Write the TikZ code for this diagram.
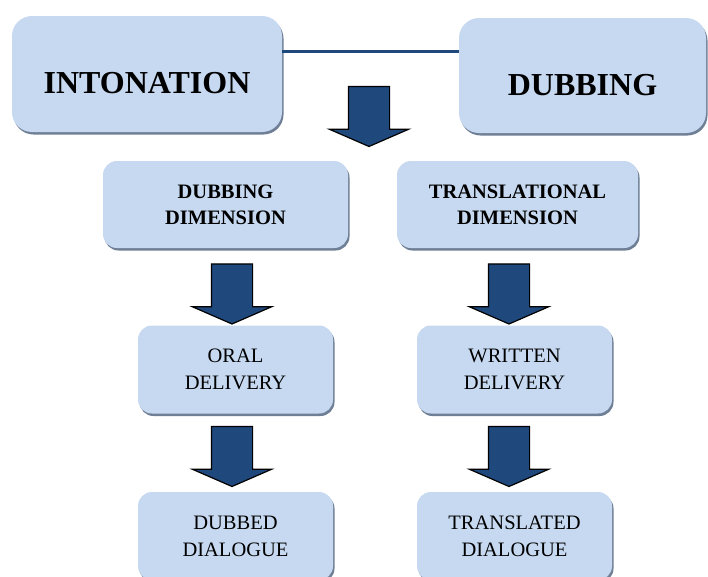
\documentclass[tikz,border=0pt]{standalone}
\usepackage{fontspec}
\setmainfont{Liberation Serif}
\usetikzlibrary{shapes,shadows}
\definecolor{boxblue}{HTML}{C6D9F1}
\definecolor{arrowblue}{HTML}{1F497D}
\definecolor{shadowblue}{HTML}{6F7F96}

\begin{document}
\begin{tikzpicture}[x=1pt,y=-1pt]
    \tikzstyle{box}=[rectangle, rounded corners=14pt, fill=boxblue, align=center, inner sep=0pt,
        drop shadow={shadow xshift=1.5pt, shadow yshift=-2.5pt, fill=shadowblue, opacity=1}]
    \tikzstyle{bigbox}=[box, rounded corners=20pt, font=\fontsize{32}{38}\selectfont\bfseries, text height=40pt, text depth=1pt]
    \tikzstyle{midbox}=[box, minimum height=87pt, font=\fontsize{20.5}{26}\selectfont\bfseries]
    \tikzstyle{smallbox}=[box, minimum width=195pt, minimum height=88pt, font=\fontsize{20.5}{27}\selectfont]
    \tikzstyle{down}=[single arrow, shape border rotate=270, fill=arrowblue, draw=black, line width=1.2pt,
        inner sep=20pt, minimum height=60pt, single arrow head extend=19pt, single arrow tip angle=133]

    \clip (0,0) rectangle (708,576);

    \node[bigbox, minimum width=270pt, minimum height=116pt] (into) at (147,74) {INTONATION};
    \node[bigbox, minimum width=247pt, minimum height=115pt] (dub) at (582.5,75.5) {DUBBING};
    \draw[line width=3pt, arrowblue] ([yshift=23pt]into.east) -- ([yshift=23pt]into.east -| dub.west);

    \node[down] (a0) at (369,112) {};

    \node[midbox, minimum width=245pt] (dubdim) at (225.5,204.5) {DUBBING\\DIMENSION};
    \node[midbox, minimum width=241pt] (transdim) at (517.5,204.5) {TRANSLATIONAL\\DIMENSION};

    \node[down] (a1) at (232,289.5) {};
    \node[down] (a2) at (509,289.5) {};

    \node[smallbox] (oral) at (235.5,369.5) {ORAL\\DELIVERY};
    \node[smallbox] (written) at (514.5,369.5) {WRITTEN\\DELIVERY};

    \node[down] (a3) at (232,452) {};
    \node[down] (a4) at (509,452) {};

    \node[smallbox] (dubbed) at (235.5,536) {DUBBED\\DIALOGUE};
    \node[smallbox] (transl) at (514.5,536) {TRANSLATED\\DIALOGUE};
\end{tikzpicture}
\end{document}
